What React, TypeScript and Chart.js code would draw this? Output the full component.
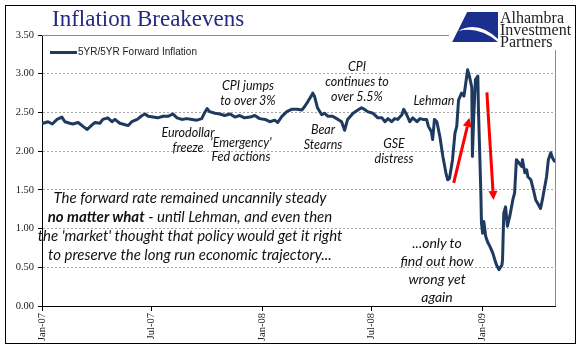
import React, { useEffect, useRef } from "react";
import { Chart, registerables } from "chart.js";

Chart.register(...registerables);

const seriesName = "5YR/5YR Forward Inflation";

const dates = [
  "2007-01-03","2007-01-11","2007-01-18","2007-01-26","2007-02-03","2007-02-08","2007-02-16","2007-02-21",
  "2007-03-02","2007-03-10","2007-03-17","2007-03-25","2007-03-30","2007-04-07","2007-04-12","2007-04-20",
  "2007-04-27","2007-05-02","2007-05-10","2007-05-19","2007-05-24","2007-05-30","2007-06-08","2007-06-16",
  "2007-06-21","2007-06-26","2007-07-04","2007-07-12","2007-07-21","2007-07-29","2007-08-06","2007-08-13",
  "2007-08-21","2007-08-29","2007-09-07","2007-09-15","2007-09-23","2007-09-28","2007-10-02","2007-10-06",
  "2007-10-15","2007-10-23","2007-10-31","2007-11-09","2007-11-17","2007-11-25","2007-12-03","2007-12-12",
  "2007-12-20","2007-12-28","2008-01-06","2008-01-14","2008-01-22","2008-01-27","2008-02-03","2008-02-11",
  "2008-02-19","2008-02-28","2008-03-07","2008-03-12","2008-03-17","2008-03-24","2008-03-25","2008-03-28",
  "2008-04-02","2008-04-09","2008-04-14","2008-04-19","2008-04-27","2008-05-06","2008-05-12","2008-05-17",
  "2008-05-22","2008-05-31","2008-06-08","2008-06-14","2008-06-19","2008-06-24","2008-07-03","2008-07-11",
  "2008-07-18","2008-07-23","2008-07-28","2008-08-03","2008-08-08","2008-08-13","2008-08-20","2008-08-23",
  "2008-08-28","2008-09-02","2008-09-07","2008-09-14","2008-09-19","2008-09-24","2008-09-30","2008-10-03",
  "2008-10-08","2008-10-10","2008-10-13","2008-10-17","2008-10-22","2008-10-27","2008-11-01","2008-11-04",
  "2008-11-07","2008-11-12","2008-11-16","2008-11-19","2008-11-22","2008-11-27","2008-12-01","2008-12-04",
  "2008-12-07","2008-12-10","2008-12-14","2008-12-15","2008-12-17","2008-12-20","2008-12-24","2008-12-25",
  "2008-12-29","2008-12-30","2009-01-01","2009-01-03","2009-01-06","2009-01-09","2009-01-13","2009-01-18",
  "2009-01-21","2009-01-24","2009-01-28","2009-02-02","2009-02-03","2009-02-05","2009-02-08","2009-02-11",
  "2009-02-15","2009-02-20","2009-02-23","2009-02-26","2009-03-02","2009-03-07","2009-03-08","2009-03-12",
  "2009-03-15","2009-03-17","2009-03-22","2009-03-25","2009-03-30","2009-04-02","2009-04-07","2009-04-10",
  "2009-04-14","2009-04-17","2009-04-20","2009-04-24","2009-04-27","2009-04-30"
];

const values = [
  2.36,2.38,2.35,2.41,2.44,2.38,2.36,2.35,
  2.37,2.32,2.28,2.34,2.37,2.36,2.41,2.43,
  2.38,2.41,2.36,2.34,2.33,2.38,2.41,2.46,
  2.48,2.45,2.44,2.43,2.45,2.45,2.48,2.43,
  2.41,2.42,2.41,2.40,2.42,2.50,2.55,2.51,
  2.49,2.48,2.46,2.48,2.44,2.46,2.43,2.44,
  2.46,2.42,2.41,2.38,2.40,2.37,2.45,2.51,
  2.54,2.54,2.53,2.58,2.64,2.73,2.75,2.71,
  2.56,2.47,2.49,2.45,2.45,2.41,2.38,2.27,
  2.41,2.49,2.53,2.56,2.54,2.51,2.49,2.43,
  2.43,2.38,2.42,2.38,2.42,2.41,2.47,2.54,
  2.47,2.38,2.43,2.38,2.42,2.41,2.41,2.32,
  2.25,2.15,2.41,2.38,2.19,1.93,1.72,1.63,
  1.65,1.89,2.23,2.32,2.66,2.75,2.71,2.88,
  3.05,2.97,2.82,1.93,2.41,2.92,2.97,2.54,
  1.46,1.07,0.94,1.09,0.90,0.83,0.77,0.68,
  0.60,0.53,0.47,0.53,0.60,1.20,1.28,1.03,
  1.16,1.37,1.46,1.89,1.85,1.80,1.89,1.72,
  1.76,1.67,1.63,1.54,1.37,1.33,1.26,1.37,
  1.54,1.67,1.89,1.98,1.91,1.87
];

const axisStart = "2007-01-01";
const axisEnd = "2009-05-01";
const tickDates = ["2007-01-01", "2007-07-01", "2008-01-01", "2008-07-01", "2009-01-01"];
const tickLabels = ["Jan-07", "Jul-07", "Jan-08", "Jul-08", "Jan-09"];
const yTicks = [0, 0.5, 1, 1.5, 2, 2.5, 3, 3.5];

const arrowTails = [["2008-11-14", 1.59], ["2009-01-08", 2.76]];
const arrowHeads = [["2008-12-10", 2.43], ["2009-01-19", 1.37]];

const dayOf = (s: string) => {
  const [y, m, d] = s.split("-").map(Number);
  return (Date.UTC(y, m - 1, d) - Date.UTC(2007, 0, 1)) / 86400000;
};

const NOTE_FONT = "Lato, 'Open Sans', sans-serif";

function Note(props: { x: number; y: number; lines: React.ReactNode[]; size: number; lh: number }) {
  const { x, y, lines, size, lh } = props;
  return (
    <div
      style={{
        position: "absolute",
        left: x,
        top: y - lh / 2,
        transform: "translateX(-50%)",
        fontFamily: NOTE_FONT,
        fontStyle: "italic",
        fontSize: size,
        lineHeight: lh + "px",
        color: "#111",
        textAlign: "center",
        whiteSpace: "nowrap",
      }}
    >
      {lines.map((l, i) => (
        <div key={i}>{l}</div>
      ))}
    </div>
  );
}

export default function App() {
  const ref = useRef<HTMLCanvasElement | null>(null);

  useEffect(() => {
    if (!ref.current) return;
    const framePlugin = {
      id: "frameArrows",
      afterDatasetsDraw(chart: any) {
        const { ctx, chartArea, scales } = chart;
        ctx.save();
        ctx.strokeStyle = "#8c8c8c";
        ctx.lineWidth = 1;
        ctx.beginPath();
        ctx.moveTo(chartArea.left, Math.round(chartArea.top) + 0.5);
        ctx.lineTo(Math.round(chartArea.right) + 0.5, Math.round(chartArea.top) + 0.5);
        ctx.lineTo(Math.round(chartArea.right) + 0.5, chartArea.bottom);
        ctx.stroke();
        // arrows
        ctx.strokeStyle = "#ff0000";
        ctx.fillStyle = "#ff0000";
        ctx.lineWidth = 3;
        for (let i = 0; i < arrowTails.length; i++) {
          const x1 = scales.x.getPixelForValue(dayOf(arrowTails[i][0] as string));
          const y1 = scales.y.getPixelForValue(arrowTails[i][1] as number);
          const x2 = scales.x.getPixelForValue(dayOf(arrowHeads[i][0] as string));
          const y2 = scales.y.getPixelForValue(arrowHeads[i][1] as number);
          const ang = Math.atan2(y2 - y1, x2 - x1);
          const hl = 9, hw = 4.5;
          const bx = x2 - hl * Math.cos(ang);
          const by = y2 - hl * Math.sin(ang);
          ctx.beginPath();
          ctx.moveTo(x1, y1);
          ctx.lineTo(bx, by);
          ctx.stroke();
          ctx.beginPath();
          ctx.moveTo(x2, y2);
          ctx.lineTo(bx + hw * Math.sin(ang), by - hw * Math.cos(ang));
          ctx.lineTo(bx - hw * Math.sin(ang), by + hw * Math.cos(ang));
          ctx.closePath();
          ctx.fill();
        }
        ctx.restore();
      },
    };

    const chart = new Chart(ref.current, {
      type: "line",
      data: {
        datasets: [
          {
            label: seriesName,
            data: dates.map((d, i) => ({ x: dayOf(d), y: values[i] })),
            borderColor: "#1f3a5f",
            backgroundColor: "#1f3a5f",
            borderWidth: 3,
            pointRadius: 0,
            tension: 0,
            fill: false,
            borderJoinStyle: "round",
            borderCapStyle: "round",
          },
        ],
      },
      options: {
        animation: false,
        responsive: false,
        layout: { padding: { top: 35, right: 26, left: 0, bottom: 0 } },
        plugins: { legend: { display: false }, tooltip: { enabled: false } },
        scales: {
          x: {
            type: "linear",
            min: dayOf(axisStart),
            max: dayOf(axisEnd),
            afterBuildTicks: (s: any) => {
              s.ticks = tickDates.map((d) => ({ value: dayOf(d) }));
            },
            afterFit: (s: any) => {
              s.height = 55;
            },
            ticks: {
              autoSkip: false,
              maxRotation: 90,
              minRotation: 90,
              padding: 2,
              color: "#222",
              font: { family: "'Liberation Serif', serif", size: 10.5 },
              callback: (v: any) => {
                const idx = tickDates.findIndex((d) => dayOf(d) === v);
                return idx >= 0 ? tickLabels[idx] : "";
              },
            },
            grid: { drawOnChartArea: false, drawTicks: true, tickLength: 5, color: "#000", tickColor: "#000" },
            border: { color: "#000", width: 1 },
          },
          y: {
            min: 0,
            max: 3.5,
            afterBuildTicks: (s: any) => {
              s.ticks = yTicks.map((v) => ({ value: v }));
            },
            afterFit: (s: any) => {
              s.width = 42;
            },
            ticks: {
              padding: 4,
              color: "#222",
              font: { family: "'Liberation Serif', serif", size: 10.5 },
              callback: (v: any) => Number(v).toFixed(2),
            },
            grid: {
              color: (c: any) => (c.tick && c.tick.value === 0 ? "rgba(0,0,0,0)" : "#a6a6a6"),
              tickColor: "#000",
              tickLength: 4,
              lineWidth: 1,
            },
            border: { color: "#000", width: 1, dash: [2, 2] },
          },
        },
      },
      plugins: [framePlugin],
    });
    return () => chart.destroy();
  }, []);

  return (
    <div style={{ position: "fixed", left: 0, top: 0, width: 581, height: 361, background: "#fff", overflow: "hidden" }}>
      <canvas ref={ref} width={581} height={361} style={{ position: "absolute", left: 0, top: 0 }} />
      <div
        style={{
          position: "absolute",
          left: 5,
          top: 5,
          width: 571,
          height: 339,
          border: "1px solid #000",
          boxSizing: "border-box",
          pointerEvents: "none",
        }}
      />
      {/* title */}
      <div
        style={{
          position: "absolute",
          left: 52,
          top: 6,
          fontFamily: "'Liberation Serif', serif",
          fontSize: 23,
          color: "#232a80",
          whiteSpace: "nowrap",
        }}
      >
        Inflation Breakevens
      </div>
      {/* logo */}
      <div style={{ position: "absolute", left: 449, top: 6, width: 125, height: 44, background: "#fff" }}>
        <svg width={46} height={30} style={{ position: "absolute", left: 3, top: 6 }} viewBox="0 0 46 30">
          <path d="M15 0 L46 0 L46 30 L0 30 Z" fill="#1b2f8f" />
          <path d="M6 19 Q26 8 46 27 L46 30 Q27 14 6 19 Z" fill="#fff" />
          <path d="M0 0 L15 0 L0 30 Z" fill="#fff" />
        </svg>
        <div
          style={{
            position: "absolute",
            left: 51,
            top: 6,
            fontFamily: "'Liberation Serif', serif",
            fontSize: 16,
            lineHeight: "12px",
            color: "#222",
            whiteSpace: "nowrap",
          }}
        >
          <div>Alhambra</div>
          <div>Investment</div>
          <div>Partners</div>
        </div>
      </div>
      {/* legend */}
      <div style={{ position: "absolute", left: 50, top: 51, width: 27, height: 3, background: "#1f3a5f" }} />
      <div
        style={{
          position: "absolute",
          left: 78,
          top: 46,
          fontFamily: "'Liberation Sans', Arial, sans-serif",
          fontSize: 10,
          lineHeight: "12px",
          color: "#222",
          whiteSpace: "nowrap",
        }}
      >
        {seriesName}
      </div>
      {/* annotations */}
      <Note x={248} y={85} size={12.5} lh={15} lines={["CPI jumps", "to over 3%"]} />
      <Note x={188} y={132} size={12.5} lh={15} lines={["Eurodollar", "freeze"]} />
      <Note x={241} y={143} size={12.5} lh={14.5} lines={["'Emergency'", "Fed actions"]} />
      <Note x={323} y={129} size={12.5} lh={15} lines={["Bear", "Stearns"]} />
      <Note x={357} y={66} size={12.5} lh={15} lines={["CPI", "continues to", "over 5.5%"]} />
      <Note x={434} y={100} size={12.5} lh={15} lines={["Lehman"]} />
      <Note x={394} y={143} size={12.5} lh={15} lines={["GSE", "distress"]} />
      <Note
        x={190}
        y={197}
        size={15}
        lh={19}
        lines={[
          "The forward rate remained uncannily steady",
          <span>
            <b>no matter what</b> - until Lehman, and even then
          </span>,
          "the 'market' thought that policy would get it right",
          "to preserve the long run economic trajectory...",
        ]}
      />
      <Note x={437} y={243} size={14} lh={18} lines={["...only to", "find out how", "wrong yet", "again"]} />
    </div>
  );
}
